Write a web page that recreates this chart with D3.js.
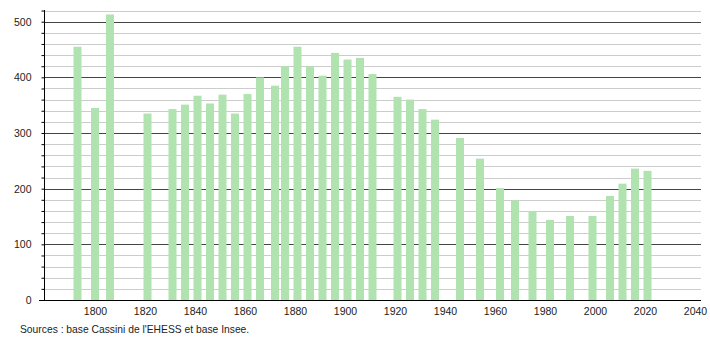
<!DOCTYPE html>
<html>
    <head>
        <style>
            body, html { margin: 0; padding: 0; background: #fff; }
            text { font-family: "Liberation Sans", Arial, sans-serif; }
        </style>
    </head>
    <body>
        <svg id="svg" width="710" height="340"></svg>

        <script src="https://d3js.org/d3.v7.min.js"></script>
        <script>
            // census years and population
            const years = [1793, 1800, 1806, 1821, 1831, 1836, 1841, 1846, 1851, 1856, 1861, 1866, 1872, 1876,
                1881, 1886, 1891, 1896, 1901, 1906, 1911, 1921, 1926, 1931, 1936, 1946, 1954, 1962, 1968,
                1975, 1982, 1990, 1999, 2006, 2011, 2016, 2021]
            const population = [455, 345, 513, 335, 343, 351, 367, 353, 369, 335, 370, 400, 385, 420,
                455, 420, 403, 444, 432, 435, 406, 365, 360, 343, 324, 291, 254, 201, 179,
                160, 144, 151, 151, 187, 209, 236, 232]
            const xTicks = [1800, 1820, 1840, 1860, 1880, 1900, 1920, 1940, 1960, 1980, 2000, 2020, 2040]
            const yTicks = [0, 100, 200, 300, 400, 500]
            const source = "Sources : base Cassini de l'EHESS et base Insee."

            const margin = { top: 10, right: 9, bottom: 40, left: 44 }
            const width = 710 - margin.left - margin.right
            const height = 340 - margin.top - margin.bottom

            const svg = d3.select('#svg')

            // x scale (years)
            const xscale = d3.scaleLinear()
                .domain([1779.6, 2042.4])
                .range([margin.left, margin.left + width])

            // y scale
            const yscale = d3.scaleLinear()
                .domain([0, 521])
                .range([margin.top + height, margin.top])

            // minor grid every 20
            const minor = d3.range(20, 521, 20).filter(d => d % 100 !== 0)
            svg.append('g')
                .selectAll('line')
                .data(minor)
                .enter()
                .append('line')
                .attr('x1', margin.left)
                .attr('x2', margin.left + width)
                .attr('y1', d => Math.round(yscale(d)) + 0.5)
                .attr('y2', d => Math.round(yscale(d)) + 0.5)
                .attr('stroke', '#cccccc')

            // major grid
            svg.append('g')
                .selectAll('line')
                .data(yTicks.filter(d => d > 0))
                .enter()
                .append('line')
                .attr('x1', margin.left)
                .attr('x2', margin.left + width)
                .attr('y1', d => Math.round(yscale(d)) + 0.5)
                .attr('y2', d => Math.round(yscale(d)) + 0.5)
                .attr('stroke', '#444')

            // bars
            const barW = 8
            svg.append('g')
                .selectAll('rect')
                .data(years)
                .enter()
                .append('rect')
                .attr('x', d => xscale(d) - barW / 2)
                .attr('y', (d, i) => yscale(population[i]))
                .attr('width', barW)
                .attr('height', (d, i) => yscale(0) - yscale(population[i]))
                .attr('fill', '#b0e3b0')

            // left axis with minor ticks
            const leftAxis = d3.axisLeft(yscale)
                .tickValues(d3.range(0, 521, 20))
                .tickSize(3)
                .tickFormat(d => yTicks.includes(d) ? d : '')
            const gy = svg.append('g')
                .attr('transform', `translate(${margin.left + 0.5}, 0)`)
                .call(leftAxis)
            gy.select('.domain').remove()
            gy.selectAll('text').attr('font-size', 10.5).attr('fill', '#222').attr('x', -13)
            gy.selectAll('.tick line').attr('stroke', '#000')
            svg.append('line')
                .attr('x1', margin.left + 0.5).attr('x2', margin.left + 0.5)
                .attr('y1', margin.top).attr('y2', margin.top + height)
                .attr('stroke', '#000')

            // bottom axis
            const bottomAxis = d3.axisBottom(xscale)
                .tickValues(xTicks)
                .tickSize(0)
                .tickFormat(d3.format('d'))
            const gx = svg.append('g')
                .attr('transform', `translate(0, ${margin.top + height + 0.5})`)
                .call(bottomAxis)
            gx.select('.domain').remove()
            gx.selectAll('text').attr('font-size', 10.5).attr('fill', '#222').attr('dy', '1.05em')
            svg.append('line')
                .attr('x1', 39).attr('x2', margin.left + width)
                .attr('y1', margin.top + height + 0.5).attr('y2', margin.top + height + 0.5)
                .attr('stroke', '#000')

            // source note
            svg.append('text')
                .attr('x', 20)
                .attr('y', 333)
                .attr('font-size', 10.3)
                .attr('fill', '#222')
                .text(source)
        </script>
    </body>
</html>
